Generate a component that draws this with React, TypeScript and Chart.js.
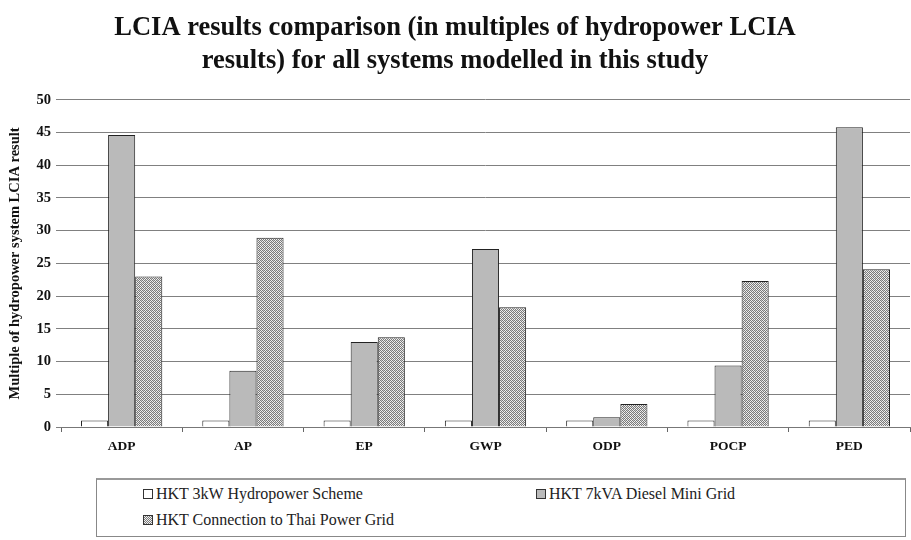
import React, { useEffect, useRef } from "react";
import { Chart, registerables } from "chart.js";

Chart.register(...registerables);

const categories = ["ADP", "AP", "EP", "GWP", "ODP", "POCP", "PED"];
const hydroValues = [1, 1, 1, 1, 1, 1, 1];
const dieselValues = [44.6, 8.6, 13.0, 27.2, 1.5, 9.4, 45.8];
const gridValues = [23.0, 28.9, 13.7, 18.3, 3.5, 22.3, 24.1];
const seriesNames = [
  "HKT 3kW Hydropower Scheme",
  "HKT 7kVA Diesel Mini Grid",
  "HKT Connection to Thai Power Grid",
];
const titleLines = [
  "LCIA results comparison (in multiples of hydropower LCIA",
  "results) for all systems modelled in this study",
];
const yTitle = "Multiple of hydropower system LCIA result";

function makePattern(): CanvasPattern | string {
  const c = document.createElement("canvas");
  c.width = 4;
  c.height = 4;
  const ctx = c.getContext("2d");
  if (!ctx) return "#aaa";
  ctx.fillStyle = "#f0f0f0";
  ctx.fillRect(0, 0, 4, 4);
  ctx.fillStyle = "#7a7a7a";
  ctx.fillRect(0, 0, 1, 1);
  ctx.fillRect(2, 0, 1, 1);
  ctx.fillRect(1, 1, 1, 1);
  ctx.fillRect(3, 1, 1, 1);
  ctx.fillRect(0, 2, 1, 1);
  ctx.fillRect(2, 2, 1, 1);
  ctx.fillRect(1, 3, 1, 1);
  ctx.fillRect(3, 3, 1, 1);
  ctx.fillStyle = "#c8c8c8";
  ctx.fillRect(1, 0, 1, 1);
  ctx.fillRect(3, 2, 1, 1);
  const p = ctx.createPattern(c, "repeat");
  return p || "#aaa";
}

const serif = "'Liberation Serif', 'Times New Roman', serif";

export default function App() {
  const ref = useRef<HTMLCanvasElement>(null);
  useEffect(() => {
    if (!ref.current) return;
    const pattern = makePattern();
    const chart = new Chart(ref.current, {
      type: "bar",
      data: {
        labels: categories,
        datasets: [
          {
            label: seriesNames[0],
            data: hydroValues,
            backgroundColor: "#ffffff",
            borderColor: "#222",
            borderWidth: 1,
          },
          {
            label: seriesNames[1],
            data: dieselValues,
            backgroundColor: "#bababa",
            borderColor: "#222",
            borderWidth: 1,
          },
          {
            label: seriesNames[2],
            data: gridValues,
            backgroundColor: pattern as any,
            borderColor: "#222",
            borderWidth: 1,
          },
        ],
      },
      options: {
        animation: false,
        responsive: false,
        maintainAspectRatio: false,
        layout: { padding: { top: 0, right: 1, left: 0, bottom: 0 } },
        datasets: {
          bar: { categoryPercentage: 0.67, barPercentage: 1.0 },
        },
        plugins: {
          legend: { display: false },
          tooltip: { enabled: false },
          title: {
            display: true,
            text: titleLines,
            color: "#111",
            font: { family: serif, size: 26.5, weight: "bold", lineHeight: 1.26 },
            padding: { top: 11, bottom: 22 },
          },
        },
        scales: {
          x: {
            afterFit: (s: any) => {
              s.height = 113;
            },
            grid: {
              display: true,
              offset: true,
              drawOnChartArea: false,
              drawTicks: true,
              tickLength: 5,
              color: "#666",
            },
            border: { display: true, color: "#777", width: 1 },
            ticks: {
              color: "#111",
              font: { family: serif, size: 13.5, weight: "bold" },
              padding: 6,
            },
          },
          y: {
            min: 0,
            max: 50,
            afterFit: (s: any) => {
              s.width = 61;
            },
            ticks: {
              stepSize: 5,
              color: "#111",
              font: { family: serif, size: 14.5, weight: "bold" },
              padding: 5,
            },
            grid: {
              color: "#808080",
              lineWidth: 1,
              drawTicks: true,
              tickLength: 5,
            },
            border: { display: false },
            title: {
              display: true,
              text: yTitle,
              color: "#111",
              font: { family: serif, size: 14.5, weight: "bold" },
              padding: { top: 7, bottom: 0 },
            },
          },
        },
      },
    });
    return () => chart.destroy();
  }, []);

  const markerBase: React.CSSProperties = {
    display: "inline-block",
    width: 8,
    height: 8,
    border: "1px solid #333",
    marginRight: 3,
    verticalAlign: "middle",
    position: "relative",
    top: -1,
  };
  const itemStyle: React.CSSProperties = {
    position: "absolute",
    fontFamily: serif,
    fontSize: 16,
    color: "#222",
    whiteSpace: "nowrap",
  };

  return (
    <div style={{ position: "absolute", left: 0, top: 0, width: 911, height: 540, background: "#fff" }}>
      <canvas ref={ref} width={911} height={540} style={{ display: "block" }} />
      <div
        style={{
          position: "absolute",
          left: 96,
          top: 478,
          width: 808,
          height: 56,
          border: "1px solid #888",
          borderTop: "2px solid #999",
          background: "#fff",
        }}
      >
        <div style={{ ...itemStyle, left: 46, top: 5 }}>
          <span style={{ ...markerBase, background: "#fff" }} />
          {seriesNames[0]}
        </div>
        <div style={{ ...itemStyle, left: 439, top: 5 }}>
          <span style={{ ...markerBase, background: "#bababa" }} />
          {seriesNames[1]}
        </div>
        <div style={{ ...itemStyle, left: 46, top: 31 }}>
          <span
            style={{
              ...markerBase,
              background:
                "repeating-conic-gradient(#7a7a7a 0% 25%, #f0f0f0 0% 50%) 0 0 / 2px 2px",
            }}
          />
          {seriesNames[2]}
        </div>
      </div>
    </div>
  );
}
